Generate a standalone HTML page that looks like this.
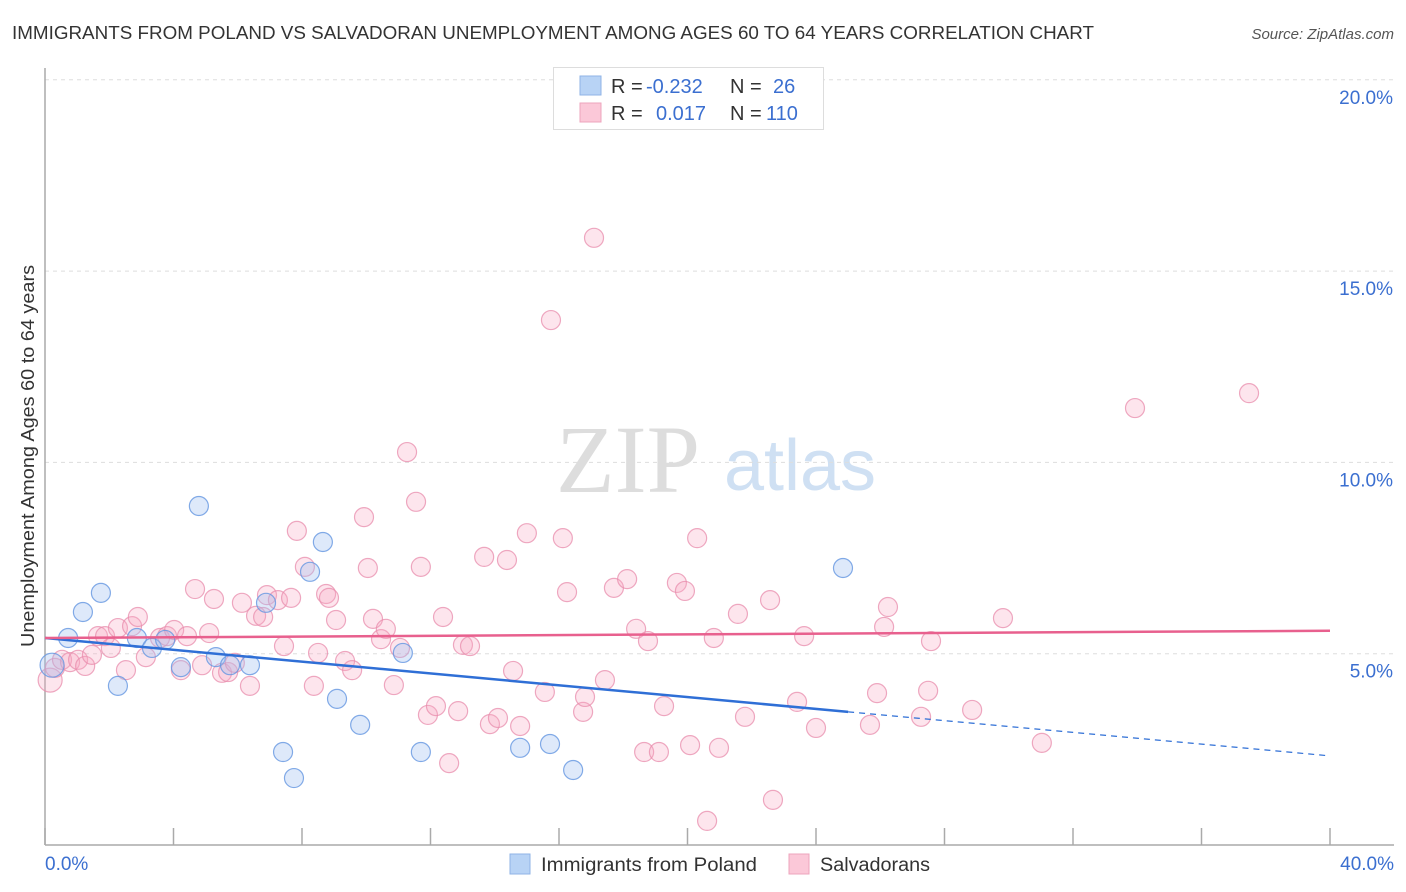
<!DOCTYPE html>
<html><head><meta charset="utf-8">
<style>
body{margin:0;background:#fff;font-family:"Liberation Sans",sans-serif;}
svg{display:block}
</style></head>
<body>
<svg id="chart" width="1406" height="892">
<text x="12" y="39" font-size="18" fill="#333" textLength="1082" lengthAdjust="spacingAndGlyphs">IMMIGRANTS FROM POLAND VS SALVADORAN UNEMPLOYMENT AMONG AGES 60 TO 64 YEARS CORRELATION CHART</text>
<text x="1394" y="39" font-size="15" fill="#555" font-style="italic" text-anchor="end">Source: ZipAtlas.com</text>
<text x="628" y="492" font-size="96" fill="#ddd" font-family="Liberation Serif,serif" text-anchor="middle">ZIP</text>
<text x="800" y="490" font-size="72" fill="#cfe0f3" text-anchor="middle">atlas</text>
<g id="grid"></g>
<g id="axes"></g>
<g id="points"></g>
<g id="lines"></g>
<text transform="translate(34,456) rotate(-90)" font-size="18" fill="#333" text-anchor="middle" textLength="382" lengthAdjust="spacingAndGlyphs">Unemployment Among Ages 60 to 64 years</text>
<g>
<rect x="553.5" y="67.5" width="270" height="62" fill="#fff" stroke="#ddd"/>
<rect x="580" y="76" width="21" height="19" fill="#b8d3f5" stroke="#8fb3e6"/>
<rect x="580" y="103" width="21" height="19" fill="#fbc8d8" stroke="#eea4bd"/>
<text x="611" y="93" font-size="20" fill="#333">R =</text>
<text x="646" y="93" font-size="20" fill="#3b6fd0">-0.232</text>
<text x="730" y="93" font-size="20" fill="#333">N =</text>
<text x="773" y="93" font-size="20" fill="#3b6fd0">26</text>
<text x="611" y="120" font-size="20" fill="#333">R =</text>
<text x="656" y="120" font-size="20" fill="#3b6fd0">0.017</text>
<text x="730" y="120" font-size="20" fill="#333">N =</text>
<text x="766" y="120" font-size="20" fill="#3b6fd0">110</text>
</g>
<g>
<rect x="510" y="854" width="20" height="20" fill="#b8d3f5" stroke="#8fb3e6"/>
<text x="541" y="871" font-size="19" fill="#333" textLength="216" lengthAdjust="spacingAndGlyphs">Immigrants from Poland</text>
<rect x="789" y="854" width="20" height="20" fill="#fbc8d8" stroke="#eea4bd"/>
<text x="820" y="871" font-size="19" fill="#333" textLength="110" lengthAdjust="spacingAndGlyphs">Salvadorans</text>
</g>
</svg>
<script>
const blueX=[0.22,0.72,1.18,1.74,2.27,2.86,3.33,3.74,4.23,4.79,5.32,5.76,6.38,6.88,7.41,7.75,8.25,8.65,9.09,9.81,11.14,11.70,14.79,15.72,16.44,24.84];
const blueY=[4.70,5.41,6.09,6.59,4.16,5.41,5.15,5.36,4.65,8.86,4.91,4.70,4.70,6.33,2.43,1.75,7.14,7.92,3.82,3.14,5.02,2.43,2.54,2.64,1.96,7.24];
const pinkX=[0.16,0.31,0.53,0.78,1.03,1.25,1.46,1.65,1.87,2.05,2.27,2.52,2.71,2.89,3.14,3.58,3.80,4.02,4.23,4.42,4.67,4.89,5.11,5.26,5.51,5.70,5.91,6.13,6.38,6.57,6.79,6.91,7.25,7.44,7.66,7.84,8.09,8.37,8.50,8.75,8.84,9.06,9.34,9.56,9.93,10.05,10.21,10.46,10.61,10.86,11.05,11.27,11.55,11.70,11.92,12.17,12.39,12.58,12.86,13.01,13.23,13.67,13.85,14.10,14.38,14.57,14.79,15.00,15.56,15.75,16.12,16.25,16.75,16.81,17.09,17.43,17.71,18.12,18.40,18.65,18.77,19.11,19.27,19.67,19.92,20.08,20.30,20.61,20.82,20.98,21.57,21.79,22.57,22.66,23.41,23.63,24.00,25.68,25.90,26.12,26.24,27.27,27.49,27.58,28.86,29.82,31.03,33.93,37.48];
const pinkY=[4.31,4.63,4.84,4.78,4.84,4.68,4.97,5.46,5.46,5.15,5.67,4.57,5.72,5.96,4.91,5.41,5.46,5.62,4.57,5.46,6.69,4.70,5.54,6.43,4.50,4.52,4.76,6.33,4.16,5.99,5.96,6.53,6.40,5.20,6.46,8.21,7.27,4.16,5.02,6.56,6.46,5.88,4.81,4.57,8.57,7.24,5.91,5.38,5.65,4.18,5.15,10.27,8.97,7.27,3.40,3.63,5.96,2.14,3.50,5.23,5.20,7.53,3.16,3.32,7.45,4.55,3.11,8.15,4.00,13.72,8.02,6.61,3.48,3.87,15.87,4.31,6.72,6.95,5.65,2.43,5.33,2.43,3.63,6.85,6.64,2.61,8.02,0.63,5.41,2.54,6.04,3.35,6.40,1.18,3.74,5.46,3.06,3.14,3.97,5.70,6.22,3.35,4.03,5.33,3.53,5.93,2.67,11.42,11.81];
const yTicks=[5,10,15,20];
const yTickLabels=["5.0%","10.0%","15.0%","20.0%"];
const xTicks=[0,4,8,12,16,20,24,28,32,36,40];
const blueTrend=[5.41,3.48,25,2.33];
const pinkTrend=[5.41,5.60];

const NS="http://www.w3.org/2000/svg";
const sx=v=>45+v/40*1285;
const sy=v=>845-v/5*191.3;
function mk(tag,attrs,parent){const e=document.createElementNS(NS,tag);for(const k in attrs)e.setAttribute(k,attrs[k]);parent.appendChild(e);return e;}
const grid=document.getElementById('grid'),axes=document.getElementById('axes'),pts=document.getElementById('points'),lines=document.getElementById('lines');

yTicks.forEach((t,i)=>{
  const g=mk('line',{x1:45,x2:1394,y1:sy(t),y2:sy(t),stroke:'#ddd','stroke-dasharray':'4,4'},grid);
  
  
  const tx=mk('text',{x:1393,y:sy(t)+24,'font-size':19,fill:'#3b6fd0','text-anchor':'end'},axes);
  tx.textContent=yTickLabels[i];
  
  
});
const ya=mk('line',{x1:45,x2:45,y1:68,y2:845,stroke:'#aaa','stroke-width':1.5},axes);


const xa=mk('line',{x1:45,x2:1394,y1:845,y2:845,stroke:'#aaa','stroke-width':1.5},axes);


xTicks.forEach(t=>{
  const l=mk('line',{x1:sx(t),x2:sx(t),y1:828,y2:845,stroke:'#aaa','stroke-width':1.5},axes);
  
  
});
const xl0=mk('text',{x:45,y:870,'font-size':19,fill:'#3b6fd0'},axes);xl0.textContent='0.0%';


const xl1=mk('text',{x:1394,y:870,'font-size':19,fill:'#3b6fd0','text-anchor':'end'},axes);xl1.textContent='40.0%';



pinkX.forEach((x,i)=>{
  const c=mk('circle',{cx:sx(x),cy:sy(pinkY[i]),r:i===0?12:9.5,fill:'rgba(247,170,196,0.3)',stroke:'rgba(232,140,172,0.75)','stroke-width':1.2},pts);
  
  
});
blueX.forEach((x,i)=>{
  const c=mk('circle',{cx:sx(x),cy:sy(blueY[i]),r:i===0?12:9.5,fill:'rgba(160,192,240,0.35)',stroke:'rgba(100,150,225,0.8)','stroke-width':1.2},pts);
  
  
});
const bl=mk('line',{x1:sx(0),y1:sy(blueTrend[0]),x2:sx(blueTrend[2]),y2:sy(blueTrend[1]),stroke:'#2f6fd6','stroke-width':2.5},lines);


const bd=mk('line',{x1:sx(blueTrend[2]),y1:sy(blueTrend[1]),x2:sx(40),y2:sy(blueTrend[3]),stroke:'#2f6fd6','stroke-width':1.2,'stroke-dasharray':'6,5'},lines);


const pl=mk('line',{x1:sx(0),y1:sy(pinkTrend[0]),x2:sx(40),y2:sy(pinkTrend[1]),stroke:'#e8608e','stroke-width':2.5},lines);


</script>
</body></html>
